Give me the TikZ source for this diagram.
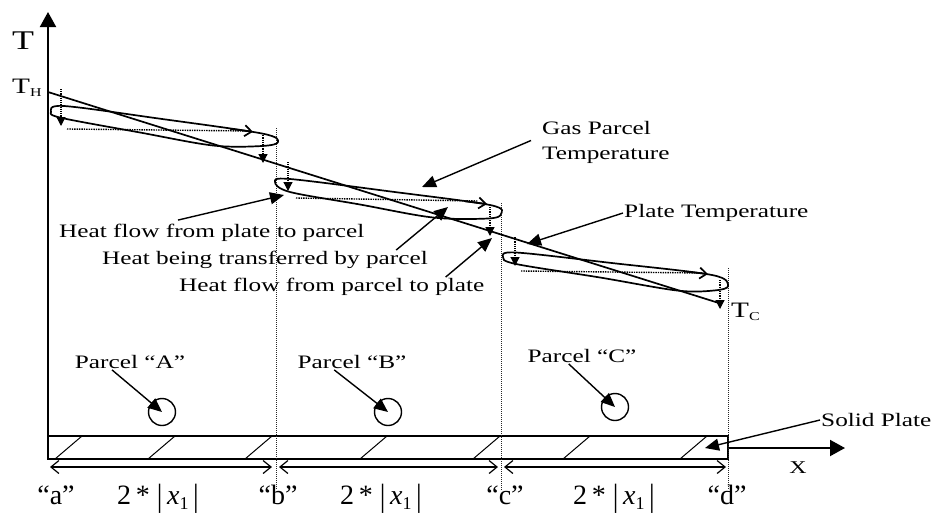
\documentclass[tikz,border=0pt]{standalone}
\usepackage{fontspec}
\setmainfont{Liberation Serif}
\usepackage{graphicx}
\usetikzlibrary{arrows.meta,calc}
\newcommand{\wide}[1]{\scalebox{1.33}[1]{#1}}
\newcommand{\tallbar}{\raisebox{-2pt}{\scalebox{1}[1.15]{|}}}
\newcommand{\absx}{\tallbar\,\textit{x}\raisebox{-5pt}{\fontsize{18}{18}\selectfont 1}\,\tallbar}
\begin{document}
\begin{tikzpicture}[x=1pt,y=-1pt,
  lbl/.style={inner sep=1pt, font=\fontsize{19}{25}\selectfont},
  botlbl/.style={inner sep=0pt, anchor=base, font=\fontsize{28}{30}\selectfont},
  ann/.style={line width=1.4pt, -{Triangle[length=14pt,width=12pt]}},
  axisline/.style={line width=2pt, -{Triangle[length=15pt,width=16pt]}},
  curve/.style={line width=1.7pt},
  barb/.style={line width=1.7pt, -{Straight Barb[length=7pt,width=11pt]}},
  heat/.style={densely dotted, line width=1.2pt, -{Triangle[length=9pt,width=9pt]}},
  transfer/.style={densely dotted, line width=1.4pt},
  bound/.style={densely dotted, line width=1pt, black!85},
  dim/.style={line width=1.2pt, {Straight Barb[length=8pt,width=13pt]}-{Straight Barb[length=8pt,width=13pt]}},
  hatch/.style={line width=1pt},
  parcel/.style={circle, draw, line width=1.4pt, minimum size=27pt, inner sep=0pt}
]
\useasboundingbox (0,0) rectangle (934,517);

% axes
\coordinate (Obot) at (48,459);
\coordinate (Ttop) at (48,12);
\draw[axisline] (Obot) -- (Ttop);
\coordinate (Xs) at (728,448);
\coordinate (Xe) at (845,448);
\draw[axisline] (Xs) -- (Xe);

% plate
\draw[line width=1.7pt] (48,436) rectangle (728,459);
\foreach \hx in {55,148,245,360,473,563,680}
  \draw[hatch] (\hx,459) -- (\hx+27,436);

% boundaries
\draw[bound] (276,128) -- (276,490);
\draw[bound] (501,203) -- (501,490);
\draw[bound] (728,268) -- (728,490);

% dimension arrows
\draw[dim] (50,467) -- (272,467);
\draw[dim] (279,467) -- (498,467);
\draw[dim] (504,467) -- (726,467);

% plate temperature line
\coordinate (TH) at (48,92);
\coordinate (TC) at (722,304);
\draw[curve] (TH) -- (TC);

% loop A
\draw[curve] plot[smooth cycle, tension=0.55] coordinates {(51,112) (64,106) (160,118.7) (262,133.5) (278,142) (262,146) (213,145.5) (140,132.5) (62,118)};
\draw[barb] (230,128.8) -- (253,131.8);
\draw[heat] (61,89) -- (61,126);
\draw[transfer] (67,129) -- (250,131);
\draw[heat] (263,133) -- (263,163);

% loop B
\draw[curve] plot[smooth cycle, tension=0.55] coordinates {(275,182) (290,179) (390,191.4) (490,205) (501,214) (488,218.5) (433,217.5) (360,204.5) (290,192)};
\draw[barb] (465,201.3) -- (487,204);
\draw[heat] (288,162) -- (288,191);
\draw[transfer] (296,198) -- (478,201);
\draw[heat] (490,207) -- (490,236);

% loop C
\draw[curve] plot[smooth cycle, tension=0.55] coordinates {(503,257) (516,252.5) (610,262.8) (712,275) (728,286) (714,290.5) (677,290.5) (600,277.5) (516,264)};
\draw[barb] (686,271.6) -- (708,274);
\draw[heat] (515,237) -- (515,266);
\draw[transfer] (521,271) -- (702,273);
\draw[heat] (720,280) -- (720,309);

% axis labels
\node[inner sep=0pt, font=\fontsize{27}{27}\selectfont] (Tlab) at (23,41) {\wide{T}};
\node[inner sep=0pt, anchor=base west, font=\fontsize{22}{22}\selectfont] (THlab) at (12,93) {\wide{T\raisebox{-3pt}{\fontsize{12}{12}\selectfont H}}};
\node[inner sep=0pt, anchor=base west, font=\fontsize{22}{22}\selectfont] (TClab) at (731,317) {\wide{T\raisebox{-3pt}{\fontsize{12}{12}\selectfont C}}};
\node[inner sep=0pt, anchor=base, font=\fontsize{18}{18}\selectfont] (Xlab) at (798,473) {\wide{X}};

% annotation labels
\node[lbl, anchor=west, align=left] (gp) at (541,142.5) {\wide{Gas Parcel}\\\wide{Temperature}};
\node[lbl, anchor=west] (pt) at (623,213) {\wide{Plate Temperature}};
\node[lbl, anchor=west] (hf1) at (58,233) {\wide{Heat flow from plate to parcel}};
\node[lbl, anchor=west] (hbt) at (101,260) {\wide{Heat being transferred by parcel}};
\node[lbl, anchor=west] (hf2) at (178,287) {\wide{Heat flow from parcel to plate}};
\node[lbl, anchor=west] (sp) at (820,420) {\wide{Solid Plate}};

\coordinate (gpTip) at (422,187);
\coordinate (ptTip) at (527,244);
\coordinate (hf1Tip) at (284,195);
\coordinate (hbtTip) at (448,207);
\coordinate (hf2Tip) at (492,238);
\coordinate (spTip) at (705,448);

\draw[ann] ($(gp.west)+(-10,-2)$) -- (gpTip);
\draw[ann] (pt.west) -- (ptTip);
\draw[ann] ($(hf1.north west)!0.39!(hf1.north east)+(0,-3)$) -- (hf1Tip);
\draw[ann] ($(hbt.north west)!0.90!(hbt.north east)$) -- (hbtTip);
\draw[ann] ($(hf2.north west)!0.87!(hf2.north east)$) -- (hf2Tip);
\draw[ann] (sp.west) -- (spTip);

% parcels
\node[lbl] (pA) at (130,362) {\wide{Parcel “A”}};
\node[lbl] (pB) at (352,362) {\wide{Parcel “B”}};
\node[lbl] (pC) at (582,356) {\wide{Parcel “C”}};
\node[parcel] (cA) at (162,412) {};
\node[parcel] (cB) at (388,412) {};
\node[parcel] (cC) at (615,407) {};
\draw[ann] ($(pA.south west)!0.34!(pA.south east)$) -- (cA.center);
\draw[ann] ($(pB.south west)!0.34!(pB.south east)$) -- (cB.center);
\draw[ann] ($(pC.south west)!0.38!(pC.south east)$) -- (cC.center);

% bottom labels
\node[botlbl] (la) at (56,504) {“a”};
\node[botlbl] (d1) at (158,504) {2\,*\ \absx};
\node[botlbl] (lb) at (278,504) {“b”};
\node[botlbl] (d2) at (381,504) {2\,*\ \absx};
\node[botlbl] (lc) at (505,504) {“c”};
\node[botlbl] (d3) at (614,504) {2\,*\ \absx};
\node[botlbl] (ld) at (727,504) {“d”};
\end{tikzpicture}
\end{document}
